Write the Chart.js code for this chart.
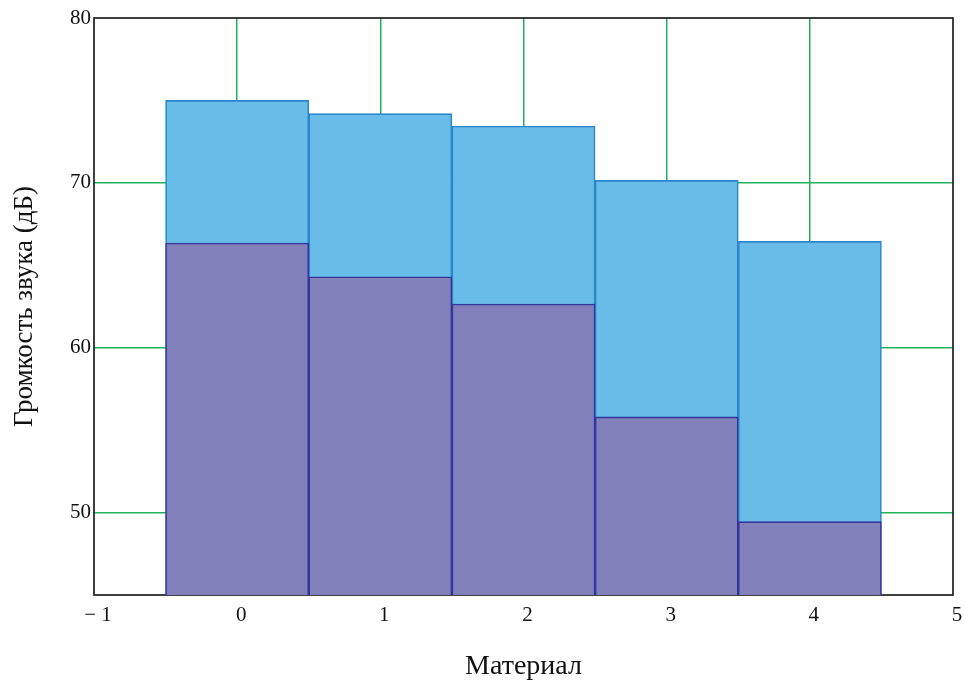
<!DOCTYPE html>
<html>
<head>
<meta charset="utf-8">
<title>Громкость звука</title>
<script src="https://cdn.jsdelivr.net/npm/chart.js@4/dist/chart.umd.min.js"></script>
<style>
    html, body { margin: 0; padding: 0; background: #fff; }
    #wrap { width: 964px; height: 684px; position: relative; }
</style>
</head>
<body>
<div id="wrap"><canvas id="soundChart"></canvas></div>
<script>
// Material index along x
const materials = [0, 1, 2, 3, 4];
// Upper (light blue) and lower (purple) loudness levels, dB
const upperLevels = [75.0, 74.2, 73.45, 70.15, 66.45];
const lowerLevels = [66.35, 64.3, 62.65, 55.8, 49.45];
// Axis ticks
const yTickValues = [50, 60, 70, 80];

const serif = '"Liberation Serif", "Times New Roman", serif';
const gridGreen = '#1fb25a';

// Box around the plot area, drawn under the bars
const frameBox = {
    id: 'frameBox',
    beforeDatasetsDraw(chart) {
        const { ctx, chartArea: a } = chart;
        ctx.save();
        ctx.strokeStyle = '#2b2b2b';
        ctx.lineWidth = 1.8;
        ctx.strokeRect(a.left, a.top, a.right - a.left, a.bottom - a.top);
        ctx.restore();
    }
};

function toPoints(values) {
    return values.map((v, i) => ({ x: materials[i], y: v }));
}

function initChart() {
    const ctx = document.getElementById('soundChart');

    new Chart(ctx, {
        type: 'bar',
        data: {
            datasets: [{
                label: 'lower',
                data: toPoints(lowerLevels),
                backgroundColor: '#8180bb',
                borderColor: '#34369c',
                borderWidth: 1.6,
                order: 1
            }, {
                label: 'upper',
                data: toPoints(upperLevels),
                backgroundColor: '#69bbe8',
                borderColor: '#2b86cc',
                borderWidth: 1.6,
                order: 2
            }]
        },
        options: {
            responsive: true,
            maintainAspectRatio: false,
            animation: false,
            layout: { padding: { top: 18, right: 11, left: 0, bottom: 0 } },
            datasets: {
                bar: { grouped: false, barPercentage: 1, categoryPercentage: 1 }
            },
            plugins: {
                legend: { display: false },
                tooltip: { enabled: false }
            },
            scales: {
                x: {
                    type: 'linear',
                    offset: false,
                    min: -1,
                    max: 5,
                    ticks: {
                        stepSize: 1,
                        padding: 8,
                        labelOffset: 4,
                        color: '#111',
                        font: { family: serif, size: 21 },
                        callback: v => v < 0 ? '\u2212 ' + Math.abs(v) : String(v)
                    },
                    grid: {
                        offset: false,
                        drawTicks: false,
                        lineWidth: 1.5,
                        color: c => (c.tick && (c.tick.value === -1 || c.tick.value === 5)) ? 'rgba(0,0,0,0)' : gridGreen
                    },
                    border: { display: false },
                    title: {
                        display: true,
                        text: 'Материал',
                        color: '#111',
                        font: { family: serif, size: 28 },
                        padding: { top: 0, bottom: 1 }
                    },
                    afterFit(scale) {
                        scale.height = 89;
                        scale.paddingLeft = 0;
                        scale.paddingRight = 0;
                    }
                },
                y: {
                    min: 45,
                    max: 80,
                    afterBuildTicks(scale) {
                        scale.ticks = yTickValues.map(v => ({ value: v }));
                    },
                    ticks: {
                        padding: 3,
                        color: '#111',
                        font: { family: serif, size: 21 }
                    },
                    grid: {
                        drawTicks: false,
                        lineWidth: 1.5,
                        color: c => (c.tick && c.tick.value === 80) ? 'rgba(0,0,0,0)' : gridGreen
                    },
                    border: { display: false },
                    title: {
                        display: true,
                        text: 'Громкость звука (дБ)',
                        color: '#111',
                        font: { family: serif, size: 27 },
                        padding: { top: 9, bottom: 0 }
                    },
                    afterFit(scale) {
                        scale.width = 94;
                        scale.paddingTop = 0;
                        scale.paddingBottom = 0;
                    }
                }
            }
        },
        plugins: [frameBox]
    });
}

document.addEventListener('DOMContentLoaded', initChart);
</script>
</body>
</html>
